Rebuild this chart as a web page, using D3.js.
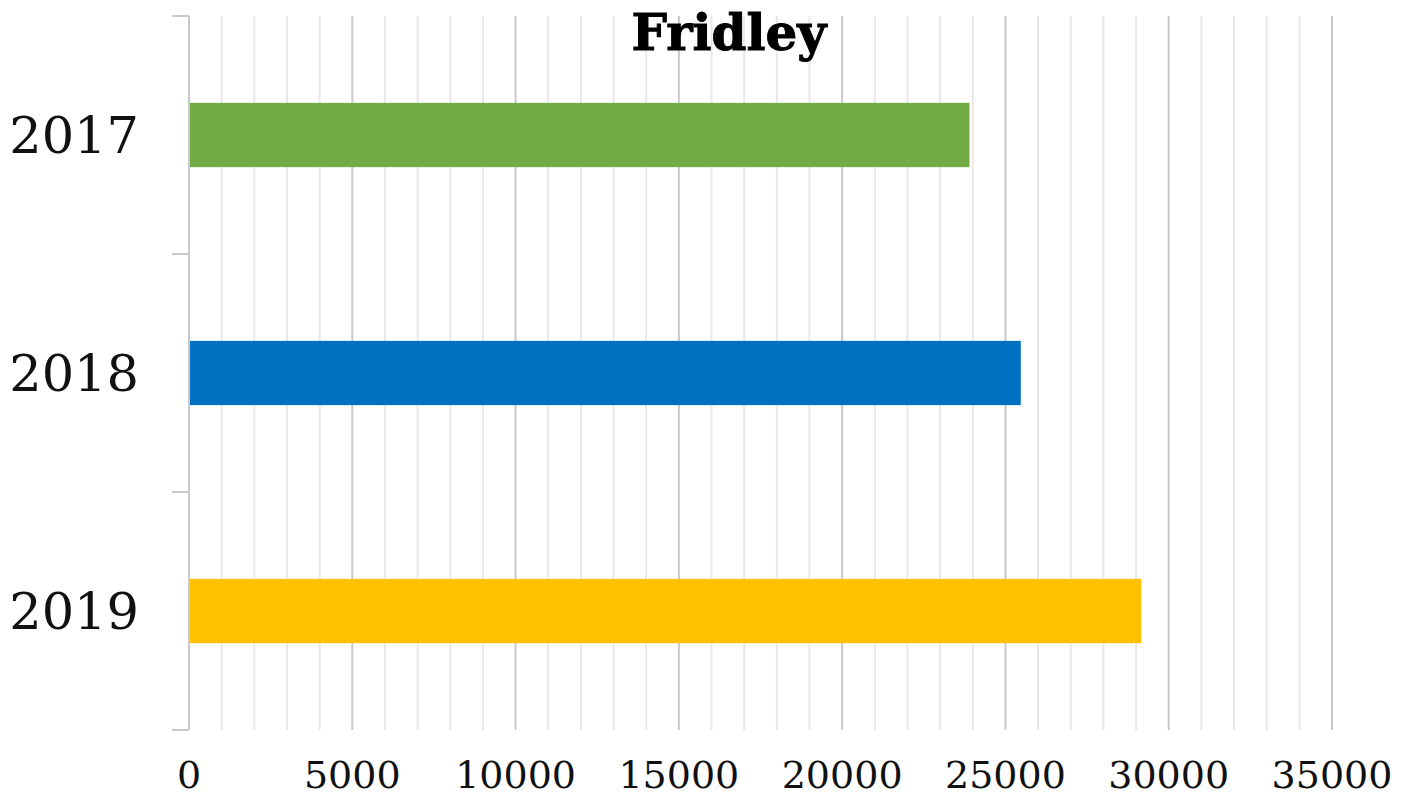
<!DOCTYPE html>
<html>
<head>
<meta charset="utf-8">
<script src="https://cdn.jsdelivr.net/npm/d3@7"></script>
<style>
  body { margin: 0; background: #fff; }
  svg { display: block; }
</style>
</head>
<body>
<svg id="chart" width="1415" height="797"></svg>
<script>
// chart data
let years = ["2017", "2018", "2019"];
let values = [23900, 25470, 29160];
let barColors = ["#70AD47", "#0070C0", "#FFC000"];
let xTicks = [0, 5000, 10000, 15000, 20000, 25000, 30000, 35000];
let title = "Fridley";

let svg = d3.select("#chart");

let margin = { top: 16, left: 189 };
let plotWidth = 1143;   // 0 .. 35000
let plotHeight = 714;

let x = d3.scaleLinear()
  .domain([0, 35000])
  .range([0, plotWidth]);

let y = d3.scaleBand()
  .domain(years)
  .range([0, plotHeight])
  .paddingInner(0.73)
  .paddingOuter(0.365);

let plot = svg.append("g")
  .attr("transform", "translate(" + margin.left + "," + margin.top + ")");

// minor gridlines every 1000, major every 5000
let minor = d3.range(1000, 35001, 1000).filter(d => d % 5000 != 0);
plot.append("g").selectAll("line")
  .data(minor)
  .join("line")
    .attr("x1", d => x(d)).attr("x2", d => x(d))
    .attr("y1", 0).attr("y2", plotHeight)
    .attr("stroke", "#e8e8e8")
    .attr("stroke-width", 2);

plot.append("g").selectAll("line")
  .data(xTicks.slice(1))
  .join("line")
    .attr("x1", d => x(d)).attr("x2", d => x(d))
    .attr("y1", 0).attr("y2", plotHeight)
    .attr("stroke", "#c9c9c9")
    .attr("stroke-width", 2);

// y axis line and category ticks
let bandStep = plotHeight / years.length;
plot.append("line")
  .attr("x1", 0).attr("x2", 0)
  .attr("y1", 0).attr("y2", plotHeight)
  .attr("stroke", "#c9c9c9")
  .attr("stroke-width", 2);

plot.append("g").selectAll("line")
  .data(d3.range(years.length + 1))
  .join("line")
    .attr("x1", -17).attr("x2", 0)
    .attr("y1", d => d * bandStep).attr("y2", d => d * bandStep)
    .attr("stroke", "#c9c9c9")
    .attr("stroke-width", 2);

// bars
plot.append("g").selectAll("rect")
  .data(years)
  .join("rect")
    .attr("x", x(0) + 1)
    .attr("y", d => y(d))
    .attr("width", (d, i) => x(values[i]) - x(0) - 1)
    .attr("height", y.bandwidth())
    .attr("fill", (d, i) => barColors[i]);

// y labels
plot.append("g").selectAll("text")
  .data(years)
  .join("text")
    .attr("x", -50)
    .attr("y", d => y(d) + y.bandwidth() / 2)
    .attr("dy", "0.36em")
    .attr("text-anchor", "end")
    .attr("font-family", "DejaVu Serif")
    .attr("font-size", 51)
    .attr("fill", "#111")
    .text(d => d);

// x labels
plot.append("g").selectAll("text")
  .data(xTicks)
  .join("text")
    .attr("x", d => x(d))
    .attr("y", plotHeight + 58)
    .attr("text-anchor", "middle")
    .attr("font-family", "DejaVu Serif")
    .attr("font-size", 38)
    .attr("fill", "#111")
    .text(d => d);

// title
svg.append("text")
  .attr("x", 729)
  .attr("y", 50)
  .attr("text-anchor", "middle")
  .attr("font-family", "DejaVu Serif")
  .attr("font-weight", "bold")
  .attr("font-size", 50)
  .attr("stroke", "#000")
  .attr("stroke-width", 1)
  .attr("fill", "#000")
  .text(title);
</script>
</body>
</html>
